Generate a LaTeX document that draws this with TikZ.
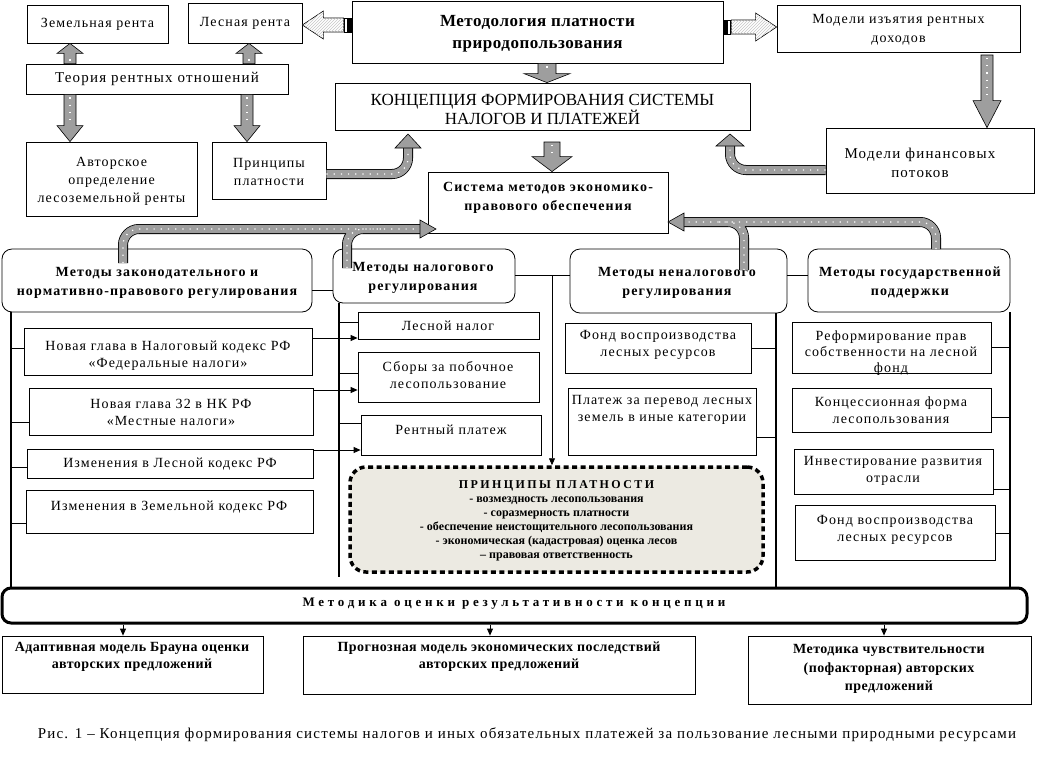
\documentclass[tikz,border=0pt]{standalone}
\usepackage{fontspec}
\setmainfont{Liberation Serif}
\newfontfamily\fsA[LetterSpace=8]{Liberation Serif}
\newfontfamily\fsB[LetterSpace=3]{Liberation Serif}
\newfontfamily\fsM[LetterSpace=29]{Liberation Serif}
\newfontfamily\fsT[LetterSpace=20]{Liberation Serif}
\usetikzlibrary{arrows.meta,patterns,calc}
\definecolor{agray}{RGB}{158,158,158}
\definecolor{pfill}{RGB}{236,234,226}
\newcommand\rbox[6][box]{\node[#1, minimum width={(#5-#3)*1pt}, minimum height={(#6-#4)*1pt}] (#2) at ({(#3+#5)/2},{(#4+#6)/2}) {};}
% vertical block arrow: tail, tip, shaft half, head half, head length
\newcommand\vbarrow[5]{%
 \path[barrow] let \p1=(#1), \p2=(#2), \n1={ifthenelse(\y2>\y1,1,-1)} in
  ({\x2-#3pt},\y1) -- ({\x2-#3pt},{\y2-(\n1)*#5pt}) -- ({\x2-#4pt},{\y2-(\n1)*#5pt}) -- (\x2,\y2) -- ({\x2+#4pt},{\y2-(\n1)*#5pt}) -- ({\x2+#3pt},{\y2-(\n1)*#5pt}) -- ({\x2+#3pt},\y1) -- cycle;
 \path[draw=white, line width=1.2pt, dash pattern=on 1.2pt off 6pt] let \p1=(#1), \p2=(#2), \n1={ifthenelse(\y2>\y1,1,-1)} in (\x2,{\y1+(\n1)*3pt}) -- (\x2,{\y2-(\n1)*(#5+3)*1pt});
}
% hatched hollow horizontal arrow: tail, tip
\newcommand\hhollow[2]{%
 \path[draw, line width=0.6pt, fill=white, postaction={pattern=north east lines, pattern color=gray!45}] let \p1=(#1), \p2=(#2), \n1={ifthenelse(\x2>\x1,1,-1)} in
  ({\x1+(\n1)*8pt},{\y2-7pt}) -- ({\x2-(\n1)*21pt},{\y2-7pt}) -- ({\x2-(\n1)*21pt},{\y2-14pt}) -- (\x2,\y2) -- ({\x2-(\n1)*21pt},{\y2+14pt}) -- ({\x2-(\n1)*21pt},{\y2+7pt}) -- ({\x1+(\n1)*8pt},{\y2+7pt}) -- cycle;
 \path[draw, line width=0.6pt, fill=black] let \p1=(#1), \p2=(#2), \n1={ifthenelse(\x2>\x1,1,-1)} in (\x1,{\y2-7pt}) rectangle ({\x1+(\n1)*3pt},{\y2+7pt});
 \path[draw, line width=0.6pt, fill=white] let \p1=(#1), \p2=(#2), \n1={ifthenelse(\x2>\x1,1,-1)} in ({\x1+(\n1)*4pt},{\y2-7pt}) rectangle ({\x1+(\n1)*7pt},{\y2+7pt});
}
\newcommand\headR[3]{\path[bandhead] (#1) -- ++(-#2pt,#3pt) -- ++(0pt,-2*#3pt) -- cycle;}
\newcommand\headL[3]{\path[bandhead] (#1) -- ++(#2pt,#3pt) -- ++(0pt,-2*#3pt) -- cycle;}
\newcommand\headU[3]{\path[bandhead] (#1) -- ++(#3pt,-#2pt) -- ++(-2*#3pt,0pt) -- cycle;}

\begin{document}
\begin{tikzpicture}[x=1pt,y=-1pt,
 box/.style={draw, line width=0.8pt, inner sep=0pt},
 hdr/.style={draw, line width=0.8pt, rounded corners=10pt, inner sep=0pt},
 txt/.style={inner sep=0pt, align=center, font=\fsA\fontsize{14}{17}\selectfont},
 btxt/.style={inner sep=0pt, align=center, font=\fsA\bfseries\fontsize{14}{19}\selectfont},
 ln/.style={line width=0.8pt},
 fr/.style={line width=2pt},
 arr/.style={line width=0.8pt, -{Triangle[length=7pt,width=6pt]}},
 barrow/.style={fill=agray, draw=black, line width=0.6pt},
 band/.style={line width=10pt, draw=black, rounded corners=16pt,
   postaction={draw=agray, line width=8.4pt},
   postaction={draw=white, line width=1.2pt, dash pattern=on 1.2pt off 6pt}},
 bandhead/.style={fill=agray, draw=black, line width=0.6pt},
 ]
\useasboundingbox (0,0) rectangle (1039,756);

% ---------- top ----------
\rbox{zem}{27}{5}{168}{43}
\node[txt] (zem-t) at (zem) {Земельная рента};
\rbox{les}{188}{3}{302}{43}
\node[txt] (les-t) at (les) {Лесная рента};
\rbox{metod}{352}{1}{723}{63}
\node[inner sep=0pt, align=center, font=\fsB\bfseries\fontsize{17}{22}\selectfont] (metod-t) at (537.5,34) {Методология платности\\природопользования};
\rbox{modiz}{777}{5}{1020}{52}
\node[txt, font=\fsA\fontsize{14}{19}\selectfont] (modiz-t) at (898.5,29.5) {Модели изъятия рентных\\доходов};
\rbox{teoria}{26}{64}{288}{94}
\node[txt, font=\fsA\fontsize{15}{17}\selectfont] (teoria-t) at (teoria) {Теория рентных отношений};
\rbox{konc}{335}{83}{750}{130}
\node[inner sep=0pt, align=center, font=\fontsize{17}{18}\selectfont] (konc-t) at (542.5,109) {КОНЦЕПЦИЯ ФОРМИРОВАНИЯ СИСТЕМЫ\\НАЛОГОВ И ПЛАТЕЖЕЙ};
\rbox{avt}{26}{142}{197}{216}
\node[txt, font=\fsA\fontsize{14}{18}\selectfont] (avt-t) at (111.5,181) {Авторское\\определение\\лесоземельной ренты};
\rbox{prin}{212}{142}{326}{199}
\node[txt, font=\fsA\fontsize{14}{18}\selectfont] (prin-t) at (269,171.5) {Принципы\\платности};
\rbox{sys}{428}{172}{668}{233}
\node[btxt] (sys-t) at (548,198) {Система методов экономико-\\правового обеспечения};
\rbox{mfin}{826}{128}{1034}{193}
\node[txt, font=\fsA\fontsize{15}{19}\selectfont] (mfin-t) at (920,162.5) {Модели финансовых\\потоков};

% ---------- top arrows ----------
\coordinate (yA) at (0,25);
\coordinate (yB) at (0,27);
\hhollow{metod.west |- yA}{les.east |- yA}
\hhollow{metod.east |- yB}{modiz.west |- yB}
\coordinate (c70) at (70,0);
\coordinate (c249) at (249,0);
\coordinate (c247) at (247,0);
\coordinate (c547) at (547,0);
\coordinate (c552) at (552,0);
\coordinate (c987) at (987,0);
\vbarrow{teoria.north -| c70}{zem.south -| c70}{6}{13}{10}
\vbarrow{teoria.north -| c249}{les.south -| c249}{6}{13}{10}
\vbarrow{teoria.south -| c70}{avt.north -| c70}{6}{13}{16}
\vbarrow{teoria.south -| c247}{prin.north -| c247}{6}{13}{16}
\vbarrow{metod.south -| c547}{konc.north -| c547}{9}{23}{9}
\coordinate (kt) at (552,142);
\vbarrow{kt}{sys.north -| c552}{8}{20}{15}
\coordinate (mt) at (987,55);
\vbarrow{mt}{mfin.north -| c987}{6}{14}{27}

% curved band arrows into KONC
\coordinate (pA) at (408,148);
\coordinate (pB) at (730,146);
\draw[band] (prin.east |- 0,174) -| (pA);
\headU{408,134}{14}{13}
\draw[band] (mfin.west |- 0,170) -| (pB);
\headU{730,134}{12}{14}

% ---------- method headers ----------
\rbox[hdr]{zak}{2}{249}{312}{312}
\node[btxt] (zak-t) at (157,282.5) {Методы законодательного и\\нормативно-правового регулирования};
\rbox[hdr]{nal}{333}{249}{515}{303}
\node[btxt] (nal-t) at (423,277.5) {Методы налогового\\регулирования};
\rbox[hdr]{nenal}{570}{249}{787}{313}
\node[btxt] (nenal-t) at (677,282.5) {Методы неналогового\\регулирования};
\rbox[hdr]{gos}{808}{249}{1010}{312}
\node[btxt] (gos-t) at (910,282.5) {Методы государственной\\поддержки};

% band arrows into SYS
\coordinate (L1) at (123,263);
\coordinate (L1e) at (421,229);
\coordinate (L2) at (347,268);
\coordinate (L2e) at (385,229);
\draw[band] (L1) |- (L1e) (L2) |- (L2e);
\headR{436,229}{16}{9}
\coordinate (R1) at (936,249);
\coordinate (R1e) at (683,222);
\coordinate (R2) at (744,270);
\coordinate (R2e) at (715,222);
\draw[band] (R1) |- (R1e) (R2) |- (R2e);
\headL{668,222}{16}{9}

% header connectors
\draw[ln] (zak.east |- 0,290) -- (nal.west |- 0,290);
\draw[ln] (nal.east |- 0,275) -- (nenal.west |- 0,275);
\draw[ln] (nenal.east |- 0,275) -- (gos.west |- 0,275);

% ---------- column 1 ----------
\rbox{b11}{24}{328}{312}{375}
\node[txt] (b11-t) at (168,356) {Новая глава в Налоговый кодекс РФ\\«Федеральные налоги»};
\rbox{b12}{29}{388}{313}{435}
\node[txt] (b12-t) at (171,412) {Новая глава 32 в НК РФ\\«Местные налоги»};
\rbox{b13}{27}{449}{313}{478}
\node[txt] (b13-t) at (170,464) {Изменения в Лесной кодекс РФ};
\rbox{b14}{26}{490}{313}{533}
\node[txt] (b14-t) at (169,507) {Изменения в Земельной кодекс РФ};

% ---------- column 2 ----------
\rbox{b21}{358}{312}{539}{339}
\node[txt] (b21-t) at (448,326) {Лесной налог};
\rbox{b22}{358}{352}{539}{402}
\node[txt] (b22-t) at (448,375) {Сборы за побочное\\лесопользование};
\rbox{b23}{361}{415}{541}{455}
\node[txt] (b23-t) at (451,430) {Рентный платеж};

% ---------- column 3 ----------
\rbox{b31}{565}{323}{751}{373}
\node[txt] (b31-t) at (658,345) {Фонд воспроизводства\\лесных ресурсов};
\rbox{b32}{568}{388}{756}{455}
\node[txt] (b32-t) at (662,410) {Платеж за перевод лесных\\земель в иные категории};

% ---------- column 4 ----------
\rbox{b41}{792}{322}{991}{373}
\node[txt, font=\fsA\fontsize{14}{16}\selectfont] (b41-t) at (891,353) {Реформирование прав\\собственности на лесной\\фонд};
\rbox{b42}{792}{388}{991}{432}
\node[txt] (b42-t) at (891,410) {Концессионная форма\\лесопользования};
\rbox{b43}{794}{449}{993}{494}
\node[txt] (b43-t) at (893,471) {Инвестирование развития\\отрасли};
\rbox{b44}{795}{505}{995}{560}
\node[txt] (b44-t) at (895,530) {Фонд воспроизводства\\лесных ресурсов};

% ---------- principles ----------
\node[draw, line width=3.5pt, dash pattern=on 5pt off 3.5pt, rounded corners=16pt, fill=pfill, minimum width=413pt, minimum height=105pt] (princ) at (556.5,519.5) {};
\node[inner sep=0pt, font=\fsT\bfseries\fontsize{12}{14}\selectfont] (princ-t) at (556.5,486) {ПРИНЦИПЫ ПЛАТНОСТИ};
\node[inner sep=0pt, align=center, font=\bfseries\fontsize{12}{13.8}\selectfont] (princ-l) at (556.5,529) {- возмездность лесопользования\\- соразмерность платности\\- обеспечение неистощительного лесопользования\\- экономическая (кадастровая) оценка лесов\\– правовая ответственность};

% ---------- evaluation ----------
\rbox[{draw, line width=3pt, rounded corners=9pt, inner sep=0pt}]{metk}{2}{588}{1027}{623}
\node[inner sep=0pt, font=\fsM\bfseries\fontsize{13}{15}\selectfont] (metk-t) at (514,604) {Методика оценки результативности концепции};

% frame lines
\coordinate (vL) at (11,0);
\coordinate (v2) at (339,0);
\coordinate (v3) at (776,0);
\coordinate (v4) at (1010,0);
\draw[fr, line width=2.4pt] (zak.south -| vL) -- (metk.north -| vL);
\draw[line width=1.5pt] (nal.south -| v2) -- (v2 |- 0,577);
\draw[fr] (nenal.south -| v3) -- (metk.north -| v3);
\draw[fr] (gos.south -| v4) -- (metk.north -| v4);

% column connectors
\draw[ln] (vL |- 0,348) -- (b11.west |- 0,348);
\draw[ln] (vL |- 0,422) -- (b12.west |- 0,422);
\draw[ln] (vL |- 0,467) -- (b13.west |- 0,467);
\draw[ln] (vL |- 0,523) -- (b14.west |- 0,523);
\draw[ln] (v2 |- 0,322) -- (b21.west |- 0,322);
\draw[ln] (v2 |- 0,373) -- (b22.west |- 0,373);
\draw[ln] (v2 |- 0,423) -- (b23.west |- 0,423);
\draw[arr] (b11.east |- 0,338) -- (b21.west |- 0,338);
\draw[arr] (b12.east |- 0,390) -- (b22.west |- 0,390);
\draw[arr] (b13.east |- 0,450) -- (b23.west |- 0,450);
\draw[ln] (b31.east |- 0,348) -- (v3 |- 0,348);
\draw[ln] (b32.east |- 0,437) -- (v3 |- 0,437);
\draw[ln] (b41.east |- 0,347) -- (v4 |- 0,347);
\draw[ln] (b42.east |- 0,417) -- (v4 |- 0,417);
\draw[ln] (b43.east |- 0,489) -- (v4 |- 0,489);
\draw[ln] (b44.east |- 0,533) -- (v4 |- 0,533);
\draw[arr] (c552 |- 0,275) -- (princ.north -| c552);

% ---------- bottom ----------
\rbox{ad}{2}{636}{263}{693}
\node[btxt, font=\fsB\bfseries\fontsize{14}{17}\selectfont] (ad-t) at (132,657) {Адаптивная модель Брауна оценки\\авторских предложений};
\rbox{prog}{303}{636}{695}{694}
\node[btxt, font=\fsB\bfseries\fontsize{14}{17}\selectfont] (prog-t) at (499,657) {Прогнозная модель экономических последствий\\авторских предложений};
\rbox{chuv}{748}{636}{1031}{704}
\node[btxt, font=\fsB\bfseries\fontsize{14}{18.5}\selectfont] (chuv-t) at (889,669) {Методика чувствительности\\(пофакторная) авторских\\предложений};
\coordinate (a1) at (123,0);
\coordinate (a2) at (490,0);
\coordinate (a3) at (884,0);
\draw[arr] (metk.south -| a1) -- (ad.north -| a1);
\draw[arr] (metk.south -| a2) -- (prog.north -| a2);
\draw[arr] (metk.south -| a3) -- (chuv.north -| a3);

\node[inner sep=0pt, font=\fsA\fontsize{15}{17}\selectfont] (caption) at (527,735) {Рис. 1 – Концепция формирования системы налогов и иных обязательных платежей за пользование лесными природными ресурсами};
\end{tikzpicture}
\end{document}
